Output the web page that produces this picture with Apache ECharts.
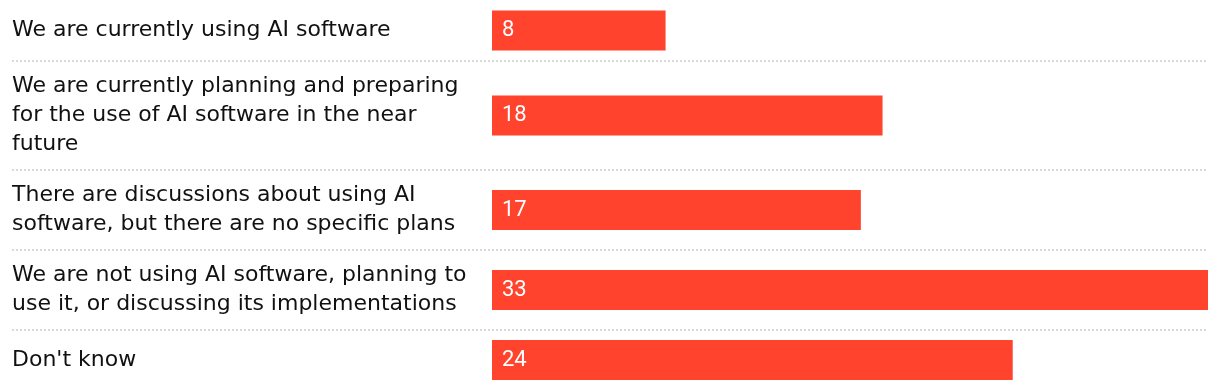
<!DOCTYPE html>
<html>
<head>
<meta charset="utf-8">
<script src="https://cdn.jsdelivr.net/npm/echarts@6/dist/echarts.min.js"></script>
<style>
html,body{margin:0;padding:0;background:#fff;}
#chart{width:1220px;height:390px;}
</style>
</head>
<body>
<div id="chart"></div>
<script>
const categories = [
  "We are currently using AI software",
  "We are currently planning and preparing\nfor the use of AI software in the near\nfuture",
  "There are discussions about using AI\nsoftware, but there are no specific plans",
  "We are not using AI software, planning to\nuse it, or discussing its implementations",
  "Don't know"
];
const values = [8, 18, 17, 33, 24];
const xMax = 33;

(function () {
  const FONT = "DejaVu Sans";
  const LEFT = 492, RIGHT = 12, LABEL_X = 12;
  const LINE_H = 29;

  const chart = echarts.init(document.getElementById('chart'), null, {renderer: 'canvas'});

  const grids = [], xAxes = [], yAxes = [], series = [], graphics = [];
  let rowTop = 0;
  categories.forEach((cat, i) => {
    const lines = cat.split('\n').length;
    const h = Math.max(61, 22 + LINE_H * lines);
    grids.push({left: LEFT, right: RIGHT, top: rowTop, height: h});
    xAxes.push({type: 'value', gridIndex: i, min: 0, max: xMax, show: false});
    yAxes.push({
      type: 'category', gridIndex: i, data: [cat],
      axisLine: {show: false}, axisTick: {show: false}, splitLine: {show: false},
      axisLabel: {
        align: 'left', margin: LEFT - LABEL_X,
        fontFamily: FONT, fontSize: 22, color: '#111', lineHeight: LINE_H
      }
    });
    series.push({
      type: 'bar', xAxisIndex: i, yAxisIndex: i, data: [values[i]],
      barWidth: 40, silent: true,
      itemStyle: {color: '#ff432d'},
      label: {
        show: true, position: 'insideLeft', distance: 10,
        color: '#fff', fontFamily: 'Roboto', fontSize: 22
      }
    });
    if (i > 0) {
      graphics.push({
        type: 'line', silent: true,
        shape: {x1: LABEL_X, y1: rowTop, x2: 1220 - RIGHT, y2: rowTop},
        style: {stroke: '#d9d9d9', lineWidth: 2, lineDash: [2, 2]}
      });
    }
    rowTop += h;
  });

  chart.setOption({
    animation: false,
    backgroundColor: '#fff',
    grid: grids, xAxis: xAxes, yAxis: yAxes, series: series,
    graphic: graphics
  });
})();
</script>
</body>
</html>
